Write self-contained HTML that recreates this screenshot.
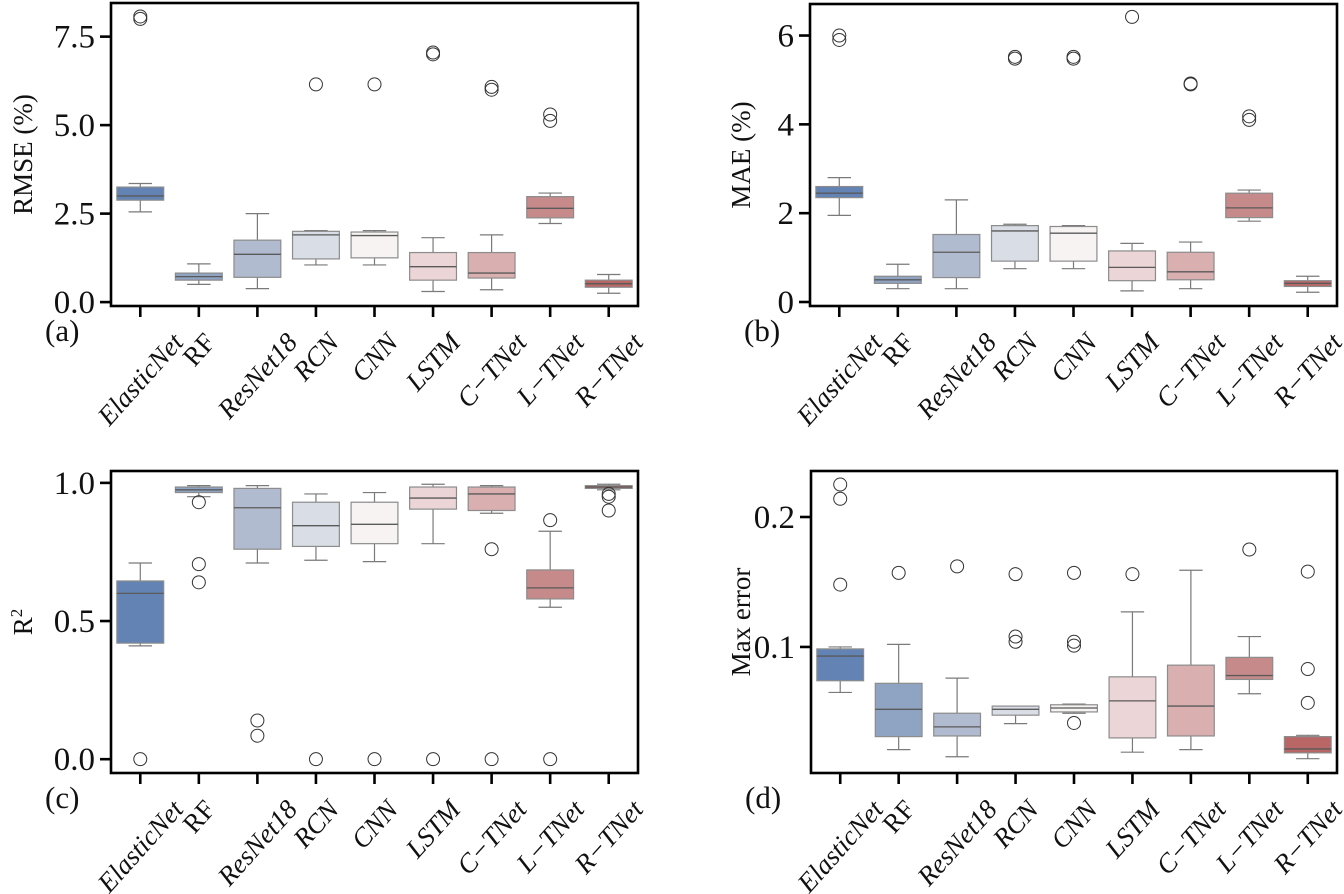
<!DOCTYPE html>
<html><head><meta charset="utf-8">
<style>
html,body{margin:0;padding:0;background:#fff;}
svg{display:block;font-family:"Liberation Serif","Times New Roman",serif;}
</style></head>
<body>
<svg id="fig" width="1344" height="894" viewBox="0 0 1344 894" xmlns="http://www.w3.org/2000/svg"></svg>
<script>
const categories = ["ElasticNet","RF","ResNet18","RCN","CNN","LSTM","C\u2212TNet","L\u2212TNet","R\u2212TNet"];
const colors = ["#6283b3","#8fa3c2","#b0bbd0","#d8dde6","#f7f3f3","#ecd5d6","#d9afb0","#c78a8a","#b86666"];
// [whiskerLow, q1, median, q3, whiskerHigh]
const rmseBoxes = [[2.55,2.88,3.0,3.25,3.35],[0.5,0.62,0.72,0.82,1.08],[0.38,0.7,1.35,1.75,2.5],[1.05,1.22,1.9,2.0,2.02],[1.05,1.25,1.88,1.98,2.02],[0.3,0.62,1.0,1.4,1.82],[0.35,0.68,0.82,1.4,1.9],[2.22,2.38,2.65,2.98,3.08],[0.25,0.42,0.52,0.62,0.78]];
const rmseOutliers = [[8.0,8.07],[],[],[6.15],[6.15],[7.0,7.05],[6.0,6.08],[5.12,5.3],[]];
const rmseTicks = [0.0,2.5,5.0,7.5];
const rmseTickLabels = ["0.0","2.5","5.0","7.5"];

const maeBoxes = [[1.95,2.35,2.45,2.6,2.8],[0.3,0.42,0.5,0.58,0.85],[0.3,0.55,1.12,1.52,2.3],[0.75,0.92,1.6,1.72,1.75],[0.75,0.92,1.55,1.7,1.72],[0.25,0.48,0.78,1.15,1.32],[0.3,0.5,0.68,1.12,1.35],[1.82,1.9,2.12,2.45,2.52],[0.22,0.35,0.42,0.48,0.58]];
const maeOutliers = [[5.9,6.0],[],[],[5.48,5.52],[5.48,5.52],[6.42],[4.9,4.92],[4.1,4.18],[]];
const maeTicks = [0,2,4,6];
const maeTickLabels = ["0","2","4","6"];

const r2Boxes = [[0.41,0.42,0.6,0.645,0.71],[0.95,0.965,0.975,0.985,0.99],[0.71,0.76,0.91,0.98,0.99],[0.72,0.77,0.845,0.93,0.96],[0.715,0.78,0.85,0.93,0.965],[0.78,0.905,0.945,0.985,0.995],[0.89,0.9,0.96,0.985,0.99],[0.55,0.58,0.62,0.685,0.825],[0.975,0.98,0.985,0.99,0.995]];
const r2Outliers = [[0.0],[0.93,0.706,0.64],[0.14,0.085],[0.0],[0.0],[0.0],[0.76,0.0],[0.865,0.0],[0.96,0.95,0.9]];
const r2Ticks = [0.0,0.5,1.0];
const r2TickLabels = ["0.0","0.5","1.0"];

const maxBoxes = [[0.065,0.074,0.093,0.0985,0.1],[0.021,0.031,0.052,0.072,0.102],[0.0155,0.0315,0.0385,0.049,0.076],[0.041,0.0475,0.052,0.0545,0.0545],[0.049,0.05,0.053,0.0555,0.056],[0.019,0.03,0.0585,0.077,0.127],[0.021,0.0315,0.0545,0.086,0.159],[0.064,0.075,0.078,0.092,0.108],[0.014,0.0185,0.0215,0.031,0.032]];
const maxOutliers = [[0.225,0.214,0.148],[0.157],[0.162],[0.156,0.108,0.104],[0.157,0.104,0.101,0.0415],[0.156],[],[0.175],[0.158,0.083,0.057]];
const maxTicks = [0.1,0.2];
const maxTickLabels = ["0.1","0.2"];

const NS = "http://www.w3.org/2000/svg";
const svg = document.getElementById("fig");
function el(tag, attrs, parent){
  const e = document.createElementNS(NS, tag);
  for (const k in attrs) e.setAttribute(k, attrs[k]);
  (parent||svg).appendChild(e);
  return e;
}

const panels = [
  {key:"rmse", x0:111, x1:638, y0:3, y1:306, ymin:-0.11, ymax:8.45, boxes:rmseBoxes, outs:rmseOutliers, ticks:rmseTicks, tl:rmseTickLabels, ylabel:"RMSE (%)", tag:"(a)", ylx:32},
  {key:"mae", x0:810, x1:1337, y0:4, y1:306, ymin:-0.09, ymax:6.71, boxes:maeBoxes, outs:maeOutliers, ticks:maeTicks, tl:maeTickLabels, ylabel:"MAE (%)", tag:"(b)", ylx:750},
  {key:"r2", x0:111, x1:638, y0:471, y1:773, ymin:-0.05, ymax:1.043, boxes:r2Boxes, outs:r2Outliers, ticks:r2Ticks, tl:r2TickLabels, ylabel:"R2", tag:"(c)", ylx:32},
  {key:"maxerr", x0:811, x1:1337, y0:471, y1:773, ymin:0.003, ymax:0.2354, boxes:maxBoxes, outs:maxOutliers, ticks:maxTicks, tl:maxTickLabels, ylabel:"Max error", tag:"(d)", ylx:750}
];

panels.forEach(p => {
  const g = el("g", {});
  
  
  const n = categories.length;
  const step = (p.x1 - p.x0) / n;
  const xScale = i => p.x0 + step * (i + 0.5);
  const yScale = v => p.y1 - (v - p.ymin) / (p.ymax - p.ymin) * (p.y1 - p.y0);
  const bw = step * 0.8;

  p.boxes.forEach((b, i) => {
    const cx = xScale(i);
    const bg = el("g", {}, g);
    
    
    const wc = "#7a7a7a";
    el("line", {x1:cx, x2:cx, y1:yScale(b[0]), y2:yScale(b[1]), stroke:wc, "stroke-width":1.2}, bg);
    el("line", {x1:cx, x2:cx, y1:yScale(b[3]), y2:yScale(b[4]), stroke:wc, "stroke-width":1.2}, bg);
    el("line", {x1:cx-bw/4, x2:cx+bw/4, y1:yScale(b[0]), y2:yScale(b[0]), stroke:wc, "stroke-width":1.2}, bg);
    el("line", {x1:cx-bw/4, x2:cx+bw/4, y1:yScale(b[4]), y2:yScale(b[4]), stroke:wc, "stroke-width":1.2}, bg);
    const top = yScale(b[3]), bot = yScale(b[1]);
    el("rect", {x:cx-bw/2, y:top, width:bw, height:Math.max(bot-top,1), fill:colors[i], stroke:"#8c8c8c", "stroke-width":1.2}, bg);
    el("line", {x1:cx-bw/2, x2:cx+bw/2, y1:yScale(b[2]), y2:yScale(b[2]), stroke:"#5a5a5a", "stroke-width":1.3}, bg);
    p.outs[i].forEach(v => {
      const c = el("circle", {cx:cx, cy:yScale(v), r:6.5, fill:"none", stroke:"#333", "stroke-width":1}, bg);
      
      
    });
  });

  const frame = el("rect", {x:p.x0, y:p.y0, width:p.x1-p.x0, height:p.y1-p.y0, fill:"none", stroke:"#000", "stroke-width":2.6}, g);
  
  

  p.ticks.forEach((t, k) => {
    const y = yScale(t);
    el("line", {x1:p.x0-11, x2:p.x0, y1:y, y2:y, stroke:"#000", "stroke-width":2.6}, g);
    const tx = el("text", {x:p.x0-16, y:y+11, "text-anchor":"end", "font-size":33, fill:"#111"}, g);
    tx.textContent = p.tl[k];
    
    
  });

  categories.forEach((c, i) => {
    const x = xScale(i);
    el("line", {x1:x, x2:x, y1:p.y1, y2:p.y1+11, stroke:"#000", "stroke-width":2.6}, g);
    const tx = el("text", {"text-anchor":"middle", "dominant-baseline":"central", "font-size":27, "font-style": (c==="RF") ? "normal" : "italic", fill:"#111"}, g);
    tx.textContent = c;
    
    
    const L = tx.getComputedTextLength();
    const H = 22;
    const a = 48 * Math.PI / 180;
    const h = L * Math.sin(a) + H * Math.cos(a);
    const cy = p.y1 + 24 + h/2;
    tx.setAttribute("x", x);
    tx.setAttribute("y", cy);
    tx.setAttribute("transform", "rotate(-48 " + x + " " + cy + ")");
  });

  const ymid = (p.y0 + p.y1) / 2;
  const yl = el("text", {x:p.ylx, y:ymid, "text-anchor":"middle", "font-size":27, fill:"#111", transform:"rotate(-90 " + p.ylx + " " + ymid + ")"}, g);
  
  
  if (p.ylabel === "R2") {
    yl.textContent = "R";
    const sup = el("tspan", {dy:-10, "font-size":17}, yl);
    sup.textContent = "2";
  } else {
    yl.textContent = p.ylabel;
  }

  const tag = el("text", {x:p.x0-66, y:p.y1+35, "font-size":31, fill:"#111"}, g);
  tag.textContent = p.tag;
  
  
});
</script>
</body></html>
